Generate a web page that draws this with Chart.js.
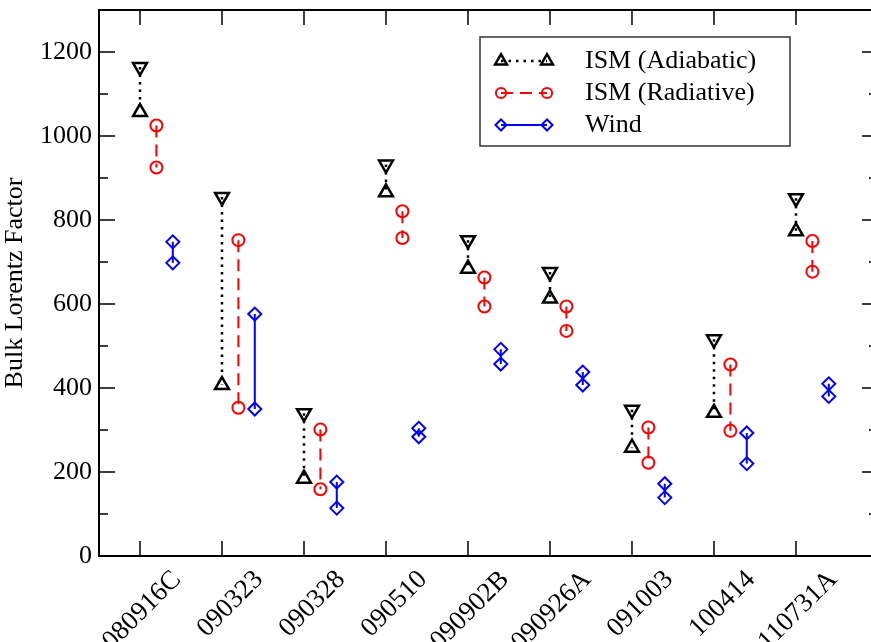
<!DOCTYPE html>
<html>
<head>
<meta charset="utf-8">
<script src="https://cdn.jsdelivr.net/npm/chart.js@4/dist/chart.umd.min.js"></script>
<style>
  html, body { margin: 0; padding: 0; background: #fff; overflow: hidden; }
  #wrap { width: 871px; height: 642px; }
</style>
</head>
<body>
<div id="wrap"><canvas id="chart" width="871" height="642"></canvas></div>
<script>
// GRB names along the x axis
const grbNames = ['080916C', '090323', '090328', '090510', '090902B', '090926A', '091003', '100414', '110731A'];

// upper / lower bulk Lorentz factor for each model
const adiabaticHigh = [1164, 855, 340, 932, 752, 676, 348, 516, 852];
const adiabaticLow  = [1057, 407, 184, 866, 684, 613, 258, 341, 773];
const radiativeHigh = [1025, 752, 301, 821, 663, 594, 306, 456, 750];
const radiativeLow  = [925, 353, 159, 757, 594, 536, 222, 298, 677];
const windHigh      = [748, 576, 176, 304, 492, 438, 172, 293, 410];
const windLow       = [698, 350, 114, 284, 457, 407, 139, 220, 380];

const yTicks = [0, 200, 400, 600, 800, 1000, 1200];
const yMinorTicks = [100, 300, 500, 700, 900, 1100];

const FONT = "'Liberation Serif', 'DejaVu Serif', serif";

// two points per GRB, gap between GRBs
function pairs(high, low, shift) {
    const out = [];
    high.forEach((h, i) => {
        out.push({ x: i + shift, y: h, hi: true });
        out.push({ x: i + shift, y: low[i], hi: false });
        out.push({ x: i + shift, y: null });
    });
    return out;
}

const datasets = [
    {
        label: 'ISM (Adiabatic)',
        data: pairs(adiabaticHigh, adiabaticLow, 0),
        borderColor: '#000',
        borderWidth: 2.5,
        borderDash: [2.5, 5],
        pointStyle: 'triangle',
        pointRadius: 8,
        pointRotation: ctx => (ctx.raw && ctx.raw.hi ? 180 : 0),
        pointBorderColor: '#000',
        pointBorderWidth: 2.5,
        pointBackgroundColor: 'rgba(0,0,0,0)'
    },
    {
        label: 'ISM (Radiative)',
        data: pairs(radiativeHigh, radiativeLow, 0.2),
        borderColor: '#ff0000',
        borderWidth: 2,
        borderDash: [12, 7],
        pointStyle: 'circle',
        pointRadius: 6,
        pointBorderColor: '#ff0000',
        pointBorderWidth: 2,
        pointBackgroundColor: 'rgba(0,0,0,0)'
    },
    {
        label: 'Wind',
        data: pairs(windHigh, windLow, 0.4),
        borderColor: '#0000ff',
        borderWidth: 2,
        borderDash: [],
        pointStyle: 'rectRot',
        pointRadius: 6.5,
        pointBorderColor: '#0000ff',
        pointBorderWidth: 2,
        pointBackgroundColor: 'rgba(0,0,0,0)'
    }
];

// frame (left, top, bottom) with inward ticks; right frame line falls off the picture
const framePlugin = {
    id: 'frame',
    afterDraw(chart) {
        const { ctx, chartArea: a, scales } = chart;
        const rightEdge = a.right + 7;
        ctx.save();
        ctx.strokeStyle = '#000';
        ctx.lineWidth = 2;
        ctx.beginPath();
        ctx.moveTo(rightEdge, a.top); ctx.lineTo(a.left, a.top);
        ctx.lineTo(a.left, a.bottom); ctx.lineTo(rightEdge, a.bottom);
        ctx.stroke();
        ctx.lineWidth = 1.5;
        ctx.beginPath();
        const tickY = (v, len) => {
            const y = scales.y.getPixelForValue(v);
            ctx.moveTo(a.left, y); ctx.lineTo(a.left + len, y);
            ctx.moveTo(rightEdge, y); ctx.lineTo(rightEdge - len, y);
        };
        yTicks.forEach(v => tickY(v, 16));
        yMinorTicks.forEach(v => tickY(v, 9));
        grbNames.forEach((n, i) => {
            const x = scales.x.getPixelForValue(i);
            ctx.moveTo(x, a.bottom); ctx.lineTo(x, a.bottom - 15);
            ctx.moveTo(x, a.top); ctx.lineTo(x, a.top + 15);
        });
        ctx.stroke();
        ctx.restore();
    }
};

// legend: marker - line - marker, then label
const legendPlugin = {
    id: 'pairLegend',
    afterDraw(chart) {
        const ctx = chart.ctx;
        const box = { left: 480, top: 37, right: 790, bottom: 146 };
        const rows = [61, 93, 125];
        const x1 = 501, x2 = 547, tx = 585;
        ctx.save();
        ctx.strokeStyle = '#333';
        ctx.lineWidth = 1.5;
        ctx.strokeRect(box.left, box.top, box.right - box.left, box.bottom - box.top);
        chart.data.datasets.forEach((ds, i) => {
            const y = rows[i];
            ctx.save();
            ctx.strokeStyle = ds.borderColor;
            ctx.lineWidth = ds.borderWidth;
            ctx.setLineDash(ds.borderDash);
            ctx.beginPath();
            ctx.moveTo(x1, y); ctx.lineTo(x2, y);
            ctx.stroke();
            ctx.restore();
            const opts = {
                pointStyle: ds.pointStyle,
                rotation: 0,
                borderWidth: ds.pointBorderWidth,
                radius: ds.pointRadius * 0.85
            };
            ctx.strokeStyle = ds.pointBorderColor;
            ctx.fillStyle = 'rgba(0,0,0,0)';
            ctx.lineWidth = ds.pointBorderWidth;
            ctx.setLineDash([]);
            Chart.helpers.drawPoint(ctx, opts, x1, y);
            Chart.helpers.drawPoint(ctx, opts, x2, y);
            ctx.fillStyle = '#000';
            ctx.font = '26px ' + FONT;
            ctx.textBaseline = 'middle';
            ctx.textAlign = 'left';
            ctx.fillText(ds.label, tx, y);
        });
        ctx.restore();
    }
};

new Chart(document.getElementById('chart'), {
    type: 'scatter',
    data: { datasets: datasets },
    options: {
        responsive: false,
        animation: false,
        showLine: true,
        spanGaps: false,
        layout: { autoPadding: false, padding: { top: 10, right: 0, left: 0, bottom: 0 } },
        plugins: {
            legend: { display: false },
            tooltip: { enabled: false }
        },
        scales: {
            x: {
                type: 'linear',
                min: -0.5,
                max: 8.915,
                grid: { display: false, drawTicks: false },
                border: { display: false },
                afterBuildTicks: scale => { scale.ticks = grbNames.map((n, i) => ({ value: i })); },
                afterFit: scale => {
                    scale.height = 86;
                    scale.paddingLeft = 0;
                    scale.paddingRight = 0;
                },
                ticks: {
                    autoSkip: false,
                    minRotation: 45,
                    maxRotation: 45,
                    padding: 8,
                    labelOffset: 37,
                    color: '#000',
                    font: { family: FONT, size: 27 },
                    callback: v => grbNames[v]
                }
            },
            y: {
                min: 0,
                max: 1300,
                grid: { display: false, drawTicks: false },
                border: { display: false },
                afterBuildTicks: scale => { scale.ticks = yTicks.map(v => ({ value: v })); },
                afterFit: scale => {
                    scale.width = 99;
                    scale.paddingTop = 0;
                    scale.paddingBottom = 0;
                },
                ticks: {
                    padding: 7,
                    color: '#000',
                    font: { family: FONT, size: 26 },
                    callback: v => String(v)
                },
                title: {
                    display: true,
                    text: 'Bulk Lorentz Factor',
                    color: '#000',
                    font: { family: FONT, size: 26 },
                    padding: { top: 0, bottom: 0 }
                }
            }
        }
    },
    plugins: [framePlugin, legendPlugin]
});
</script>
</body>
</html>
